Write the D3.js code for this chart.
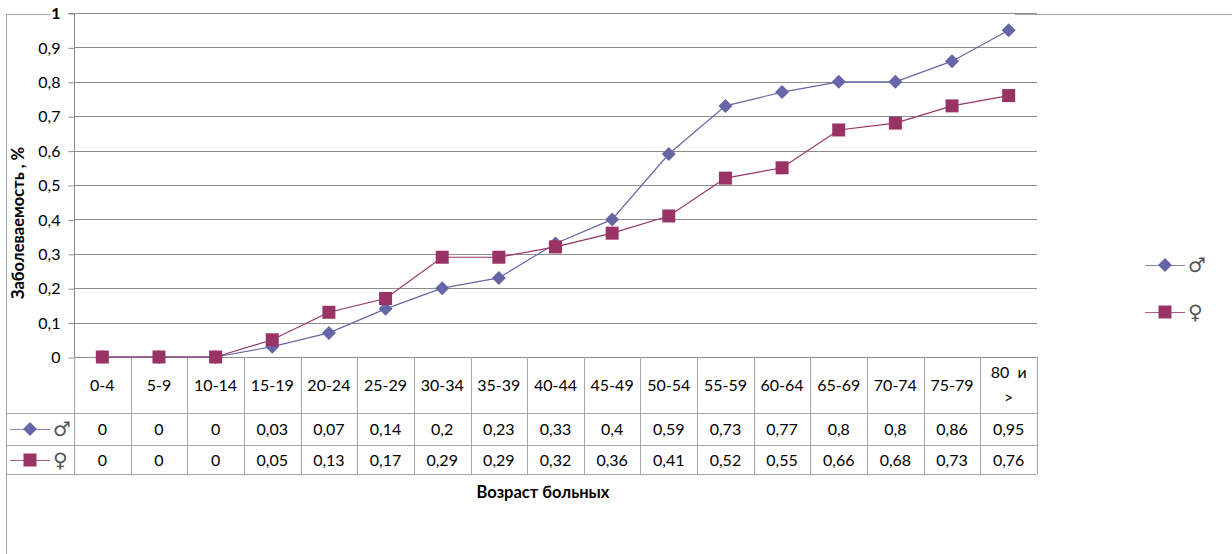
<!DOCTYPE html>
<html><head><meta charset="utf-8">
<script src="https://cdn.jsdelivr.net/npm/d3@7"></script>
<style>
html,body{margin:0;padding:0;background:#fff;}
svg{display:block;font-family:Lato,"Open Sans",sans-serif;}
</style></head>
<body>
<svg id="c" width="1232" height="554"></svg>
<script>
const categories = ["0-4","5-9","10-14","15-19","20-24","25-29","30-34","35-39","40-44","45-49","50-54","55-59","60-64","65-69","70-74","75-79","80 и >"];
const maleValues = [0,0,0,0.03,0.07,0.14,0.2,0.23,0.33,0.4,0.59,0.73,0.77,0.8,0.8,0.86,0.95];
const femaleValues = [0,0,0,0.05,0.13,0.17,0.29,0.29,0.32,0.36,0.41,0.52,0.55,0.66,0.68,0.73,0.76];
const yTicks = [0,0.1,0.2,0.3,0.4,0.5,0.6,0.7,0.8,0.9,1];
const seriesNames = ["♂","♀"];

const maleColor = "#6666a6", femaleColor = "#993366";
const svg = d3.select("#c");
const L = 74, R = 1037, T = 13, B = 357;
const x = d3.scaleBand().domain(categories).range([L, R]).padding(0);
const y = d3.scaleLinear().domain([0,1]).range([B, T]);
const fmt = v => String(v).replace(".", ",");
const FS = 16;

// outer frame fragments
svg.append("line").attr("x1",6.5).attr("x2",6.5).attr("y1",14).attr("y2",554).attr("stroke","#a6a6a6");
svg.append("line").attr("x1",6).attr("x2",50).attr("y1",14.5).attr("y2",14.5).attr("stroke","#a6a6a6");
svg.append("line").attr("x1",1015).attr("x2",1232).attr("y1",14.5).attr("y2",14.5).attr("stroke","#a6a6a6");

// gridlines
svg.append("g").selectAll("line").data(yTicks.slice(1)).join("line")
  .attr("x1",L).attr("x2",R).attr("y1",d=>Math.round(y(d))+0.5).attr("y2",d=>Math.round(y(d))+0.5)
  .attr("stroke","#8c8c8c");

// y axis
const yAxis = d3.axisLeft(y).tickValues(yTicks).tickSize(6).tickPadding(8).tickFormat(fmt);
const ga = svg.append("g").attr("transform",`translate(${L+0.5},0.5)`).call(yAxis);
ga.select(".domain").attr("stroke","#8c8c8c").attr("d",`M-6,${T}H0V${B}`);
ga.selectAll(".tick line").attr("stroke","#8c8c8c");
ga.selectAll(".tick text").attr("font-size",FS).attr("fill","#000").attr("font-family","Lato,sans-serif");
ga.selectAll(".tick").filter(d=>d===1).select("text").attr("font-weight","bold").attr("font-size",16);

// x axis line
svg.append("line").attr("x1",L).attr("x2",R).attr("y1",B+0.5).attr("y2",B+0.5).attr("stroke","#8c8c8c");

// data table
const tableTop = B, row1 = 413, row2 = 445, tableBottom = 474;
const tcol = "#a6a6a6";
const tg = svg.append("g");
const bounds = categories.map(c=>x(c)).concat([R]);
tg.selectAll("line.v").data(bounds).join("line")
  .attr("x1",d=>Math.round(d)+0.5).attr("x2",d=>Math.round(d)+0.5)
  .attr("y1",tableTop).attr("y2",tableBottom).attr("stroke",tcol);
tg.append("line").attr("x1",6).attr("x2",R).attr("y1",row1+0.5).attr("y2",row1+0.5).attr("stroke",tcol);
tg.append("line").attr("x1",6).attr("x2",R).attr("y1",row2+0.5).attr("y2",row2+0.5).attr("stroke",tcol);
tg.append("line").attr("x1",6).attr("x2",R).attr("y1",tableBottom+0.5).attr("y2",tableBottom+0.5).attr("stroke",tcol);

// category labels
const catG = tg.append("g").attr("font-size",FS).attr("text-anchor","middle");
categories.forEach(c=>{
  const cx = x(c)+x.bandwidth()/2;
  if (c === "80 и >") {
    catG.append("text").attr("x",cx).attr("y",378).style("white-space","pre").text("80  и");
    catG.append("text").attr("x",cx).attr("y",403).text(">");
  } else {
    catG.append("text").attr("x",cx).attr("y",391).text(c);
  }
});
// value rows
[[maleValues,429],[femaleValues,460]].forEach(([vals,yy])=>{
  tg.append("g").attr("font-size",FS).attr("text-anchor","middle").selectAll("text").data(vals).join("text")
    .attr("x",(d,i)=>x(categories[i])+x.bandwidth()/2).attr("y",yy+6).text(fmt);
});

function diamond(g, cx, cy, s){
  g.append("path").attr("d",`M${cx},${cy-s}L${cx+s},${cy}L${cx},${cy+s}L${cx-s},${cy}Z`).attr("fill",maleColor);
}
function square(g, cx, cy, s){
  g.append("rect").attr("x",cx-s).attr("y",cy-s).attr("width",2*s).attr("height",2*s).attr("fill",femaleColor);
}
function legendKey(g, x0, x1, cy, type, label){
  const col = type==="m"?maleColor:femaleColor;
  g.append("line").attr("x1",x0).attr("x2",x1).attr("y1",cy+0.5).attr("y2",cy+0.5).attr("stroke",col).attr("stroke-opacity",0.8);
  const mx=(x0+x1)/2;
  if(type==="m") diamond(g,mx,cy,7); else square(g,mx,cy,6.5);
  g.append("text").attr("x",x1+3).attr("y",cy+7).attr("font-size",20).attr("font-family","'DejaVu Sans'").attr("font-weight","normal").attr("fill","#555").text(label);
}
legendKey(svg, 10, 50, 429, "m", seriesNames[0]);
legendKey(svg, 10, 50, 460, "f", seriesNames[1]);

const cx = i => x(categories[i]) + x.bandwidth()/2;
const line = d3.line().x((d,i)=>cx(i)).y(d=>y(d));
svg.append("path").datum(maleValues).attr("d",line).attr("fill","none").attr("stroke",maleColor).attr("stroke-width",1.2);
svg.append("path").datum(femaleValues).attr("d",line).attr("fill","none").attr("stroke",femaleColor).attr("stroke-width",1.2);
const mg = svg.append("g");
maleValues.forEach((v,i)=>diamond(mg,cx(i),y(v),7));
const fg = svg.append("g");
femaleValues.forEach((v,i)=>square(fg,cx(i),y(v),6.5));

legendKey(svg, 1145, 1185, 265, "m", seriesNames[0]);
legendKey(svg, 1145, 1185, 312, "f", seriesNames[1]);

svg.append("text").attr("x",543).attr("y",498).attr("text-anchor","middle").attr("font-weight","bold").attr("font-size",16.5).text("Возраст больных");
svg.append("text").attr("transform","translate(24,223) rotate(-90)").attr("text-anchor","middle").attr("font-weight","bold").attr("font-size",16.5).text("Заболеваемость , %");
</script>
</body></html>
